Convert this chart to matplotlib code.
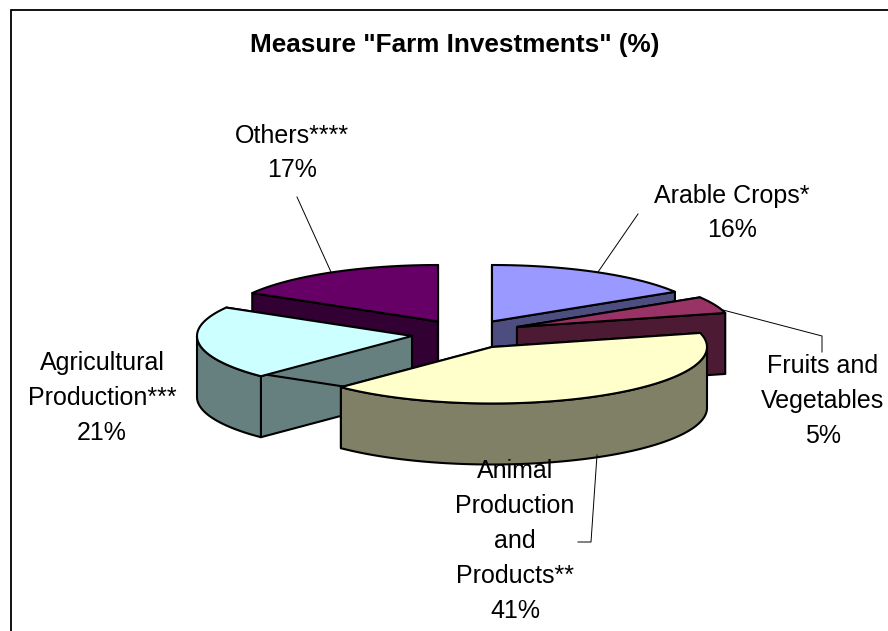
import numpy as np
import matplotlib
matplotlib.use('Agg')
import matplotlib.pyplot as plt
from matplotlib.patches import Polygon, Rectangle

categories = ['Arable Crops*', 'Fruits and\nVegetables', 'Animal\nProduction\nand\nProducts**', 'Agricultural\nProduction***', 'Others****']
shares = [16.2, 4.8, 41.4, 21.0, 16.6]
top_colors = ['#9999FF', '#993366', '#FFFFCC', '#CCFFFF', '#660066']
side_colors = ['#4D4D80', '#4D1A33', '#808066', '#668080', '#330033']

# apex of each exploded slice, in pixels
apex_x = [492, 517, 492, 412, 438]
apex_y = [321.5, 327, 347, 336, 321.5]
label_x = [732, 823, 515, 102, 292]
label_y = [213, 401, 541, 398, 153]
draw_order = [4, 0, 1, 3, 2]

rx = 215
ry = 56.5
depth = 61

plt.rcParams['font.family'] = ['Liberation Sans', 'DejaVu Sans']

fig = plt.figure(figsize=(8.88, 6.31), dpi=100)
ax = fig.add_axes([0, 0, 1, 1])
ax.set_xlim(0, 888)
ax.set_ylim(631, 0)
ax.axis('off')

ax.add_patch(Rectangle((10.5, 10), 900, 700, fc='white', ec='black', lw=1.3))


def arc(cx, cy, a0, a1):
    t = np.radians(np.linspace(a0, a1, 120))
    return cx + rx * np.sin(t), cy - ry * np.cos(t)


def face(xs, ys, color, z):
    pts = np.column_stack([xs, ys])
    ax.add_patch(Polygon(pts, closed=True, fc=color, ec='black', lw=1.5, joinstyle='round', zorder=z))


edges = np.cumsum([0] + shares) * 3.6

for n, i in enumerate(draw_order):
    cx, cy = apex_x[i], apex_y[i]
    a0, a1 = edges[i], edges[i + 1]
    z = 2 + n
    # flat side along each cut, drawn first
    for a in (a0, a1):
        ex, ey = arc(cx, cy, a, a)
        ex, ey = ex[0], ey[0]
        face([cx, ex, ex, cx], [cy, ey, ey + depth, cy + depth], side_colors[i], z)
    # rim of the slice, only the part that faces the viewer
    lo, hi = max(a0, 90), min(a1, 270)
    if lo < hi:
        xs, ys = arc(cx, cy, lo, hi)
        face(np.r_[xs, xs[::-1]], np.r_[ys, ys[::-1] + depth], side_colors[i], z)
    xs, ys = arc(cx, cy, a0, a1)
    face(np.r_[cx, xs], np.r_[cy, ys], top_colors[i], z)

for i in range(len(categories)):
    ax.text(label_x[i], label_y[i], categories[i] + '\n' + str(round(shares[i])) + '%', ha='center', va='center',
            fontsize=18, linespacing=1.57, color='black', zorder=12)

ax.text(454.5, 45, 'Measure "Farm Investments" (%)', ha='center', va='center', fontsize=18.8, fontweight='bold', zorder=12)

# leader lines
leaders = [([638, 598], [214, 272]), ([723, 822, 822], [310, 336, 352]),
           ([597, 591, 578], [455, 542, 542]), ([297, 331], [197, 272])]
for lx, ly in leaders:
    ax.plot(lx, ly, color='black', lw=0.7, zorder=11)

fig.savefig('out.png', dpi=100)
